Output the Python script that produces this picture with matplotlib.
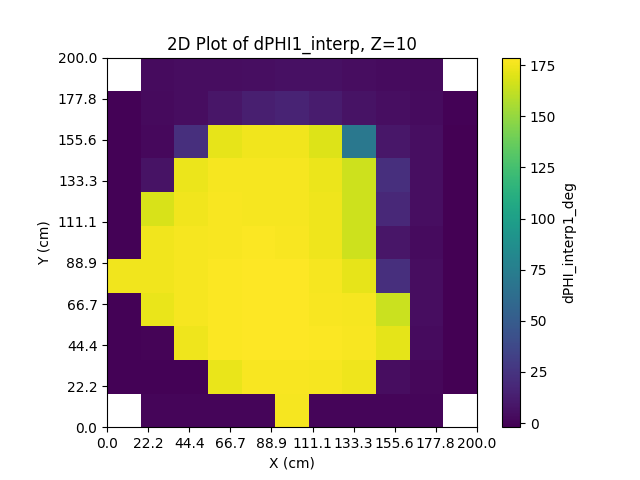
import numpy as np
import matplotlib
matplotlib.use("Agg")
import matplotlib.pyplot as plt

# grid edges (11 x 11 cells over 0..200 cm)
x_edges = np.linspace(0, 200, 12)
y_edges = np.linspace(0, 200, 12)

# dPHI1_interp values, rows from y=0 (bottom) to y=200 (top)
row0 = [np.nan, 0.5, 0.5, 0.5, 0.5, 176.5, 0.5, 0.5, 0.5, 0.5, np.nan]
row1 = [-1.0, -1.0, -1.0, 173.0, 177.0, 177.0, 176.5, 174.0, 4.0, 1.5, -2.0]
row2 = [-1.0, -0.5, 174.0, 177.5, 178.0, 178.0, 177.5, 177.0, 171.0, 3.5, -2.0]
row3 = [-1.0, 173.0, 176.0, 177.5, 178.5, 178.0, 177.0, 176.0, 164.0, 4.0, -2.0]
row4 = [175.0, 174.5, 176.0, 177.5, 178.7, 178.0, 176.5, 172.0, 22.0, 4.0, -2.0]
row5 = [-1.0, 175.0, 176.0, 177.0, 177.5, 177.0, 174.0, 165.0, 8.0, 3.5, -2.0]
row6 = [-1.0, 168.0, 175.0, 177.0, 176.5, 176.0, 174.0, 165.0, 18.0, 4.5, -2.0]
row7 = [-1.0, 7.0, 173.5, 176.5, 176.0, 176.0, 173.5, 165.0, 22.0, 5.0, -2.0]
row8 = [-1.0, 2.0, 22.0, 172.0, 175.0, 174.5, 169.0, 70.0, 9.0, 4.5, -2.0]
row9 = [-1.0, 2.5, 4.0, 8.0, 13.0, 15.0, 12.0, 7.0, 4.5, 3.0, -1.0]
row10 = [np.nan, 3.0, 4.0, 4.0, 5.0, 5.5, 5.5, 4.0, 3.0, 2.5, np.nan]

dphi = np.array([row0, row1, row2, row3, row4, row5, row6, row7, row8, row9, row10])

ticks = np.linspace(0, 200, 10)
tick_labels = ["%.1f" % t for t in ticks]

fig, ax = plt.subplots(figsize=(6.4, 4.8), dpi=100)
mesh = ax.pcolormesh(x_edges, y_edges, np.ma.masked_invalid(dphi), cmap="viridis")
cbar = fig.colorbar(mesh, ax=ax)
cbar.set_label("dPHI_interp1_deg")
ax.set_xticks(ticks)
ax.set_xticklabels(tick_labels)
ax.set_yticks(ticks)
ax.set_yticklabels(tick_labels)
ax.set_aspect("equal")
ax.set_xlabel("X (cm)")
ax.set_ylabel("Y (cm)")
ax.set_title("2D Plot of dPHI1_interp, Z=10")

plt.savefig("out.png")
